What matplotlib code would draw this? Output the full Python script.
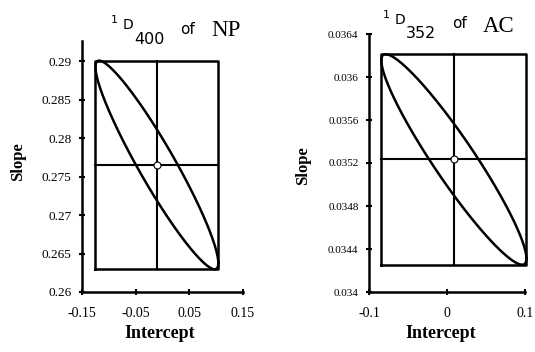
import numpy as np
import matplotlib
matplotlib.use('Agg')
import matplotlib.pyplot as plt

# joint confidence region of intercept and slope for two calibrations
panels = ['NP', 'AC']
wavelengths = ['400', '352']
intercept_est = [-0.0105, 0.0088]
slope_est = [0.2765, 0.035233]
intercept_half = [0.1145, 0.093]
slope_half = [0.01355, 0.000979]
correlation = [-0.94, -0.94]

x_limits = [(-0.15, 0.15), (-0.1, 0.1)]
y_limits = [(0.26, 0.2926), (0.034, 0.0364)]
x_ticks = [[-0.15, -0.05, 0.05, 0.15], [-0.1, 0, 0.1]]
x_ticklabels = [['-0.15', '-0.05', '0.05', '0.15'], ['-0.1', '0', '0.1']]
y_ticks = [[0.26, 0.265, 0.27, 0.275, 0.28, 0.285, 0.29],
           [0.034, 0.0344, 0.0348, 0.0352, 0.0356, 0.036, 0.0364]]
y_ticklabels = [['0.26', '0.265', '0.27', '0.275', '0.28', '0.285', '0.29'],
                ['0.034', '0.0344', '0.0348', '0.0352', '0.0356', '0.036', '0.0364']]

W, H = 535, 352
fig = plt.figure(figsize=(W / 100, H / 100), dpi=100)
serif = 'Liberation Serif'

def fx(px):
    return px / W

def fy(px):
    return 1 - px / H

# axes boxes in pixels: left, top, right, bottom
boxes = [(82, 41, 243, 292), (369, 34, 525, 292)]
ytick_size = [9.5, 8]

for i in range(2):
    l, t, r, b = boxes[i]
    ax = fig.add_axes([fx(l), fy(b), fx(r - l), (b - t) / H])
    ax.set_xlim(*x_limits[i])
    ax.set_ylim(*y_limits[i])
    for s in ['top', 'right']:
        ax.spines[s].set_visible(False)
    for s in ['left', 'bottom']:
        ax.spines[s].set_linewidth(1.8)
    ax.set_xticks(x_ticks[i])
    ax.set_xticklabels(x_ticklabels[i], fontfamily=serif, fontsize=10)
    ax.set_yticks(y_ticks[i])
    ax.set_yticklabels(y_ticklabels[i], fontfamily=serif, fontsize=ytick_size[i])
    ax.tick_params(direction='inout', length=5, width=1.5, pad=5)
    ax.tick_params(axis='x', pad=8)

    cx, cy = intercept_est[i], slope_est[i]
    a, bb, rho = intercept_half[i], slope_half[i], correlation[i]

    # bounding rectangle and centre lines
    ax.plot([cx - a, cx + a, cx + a, cx - a, cx - a],
            [cy - bb, cy - bb, cy + bb, cy + bb, cy - bb],
            color='black', lw=1.8, clip_on=False)
    ax.plot([cx, cx], [cy - bb, cy + bb], color='black', lw=1.5, clip_on=False)
    ax.plot([cx - a, cx + a], [cy, cy], color='black', lw=1.5, clip_on=False)

    # confidence ellipse
    t_ = np.linspace(0, 2 * np.pi, 300)
    ex = cx + a * np.cos(t_)
    ey = cy + bb * (rho * np.cos(t_) + np.sqrt(1 - rho ** 2) * np.sin(t_))
    ax.plot(ex, ey, color='black', lw=1.8, clip_on=False)

    ax.plot([cx], [cy], 'o', ms=5, mfc='white', mec='black', mew=0.8, zorder=5)

    ax.set_xlabel('Intercept', fontfamily=serif, fontweight='bold', fontsize=13)
    ax.set_ylabel('Slope', fontfamily=serif, fontweight='bold', fontsize=12)

fig.axes[0].xaxis.set_label_coords(0.48, -0.13)
fig.axes[1].xaxis.set_label_coords(0.46, -0.128)
fig.axes[0].yaxis.set_label_coords(-0.35, 0.52)
fig.axes[1].yaxis.set_label_coords(-0.37, 0.49)

# titles, placed piece by piece like the original
title_x = [111, 383]
title_y = [20, 15]
for i in range(2):
    x0, y0 = title_x[i], title_y[i]
    fig.text(fx(x0), fy(y0), '1', fontsize=8, ha='left', va='center')
    fig.text(fx(x0 + 12), fy(y0 + 5), 'D', fontsize=10, ha='left', va='center')
    fig.text(fx(x0 + 23), fy(y0 + 19), wavelengths[i], fontsize=11.5,
             ha='left', va='center')
    fig.text(fx(x0 + 69), fy(y0 + 9), 'of', fontsize=11, ha='left', va='center')
    fig.text(fx(x0 + 100), fy(y0 + 11), panels[i], fontsize=16.5, fontfamily=serif,
             ha='left', va='center')

fig.savefig('out.png', dpi=100)
